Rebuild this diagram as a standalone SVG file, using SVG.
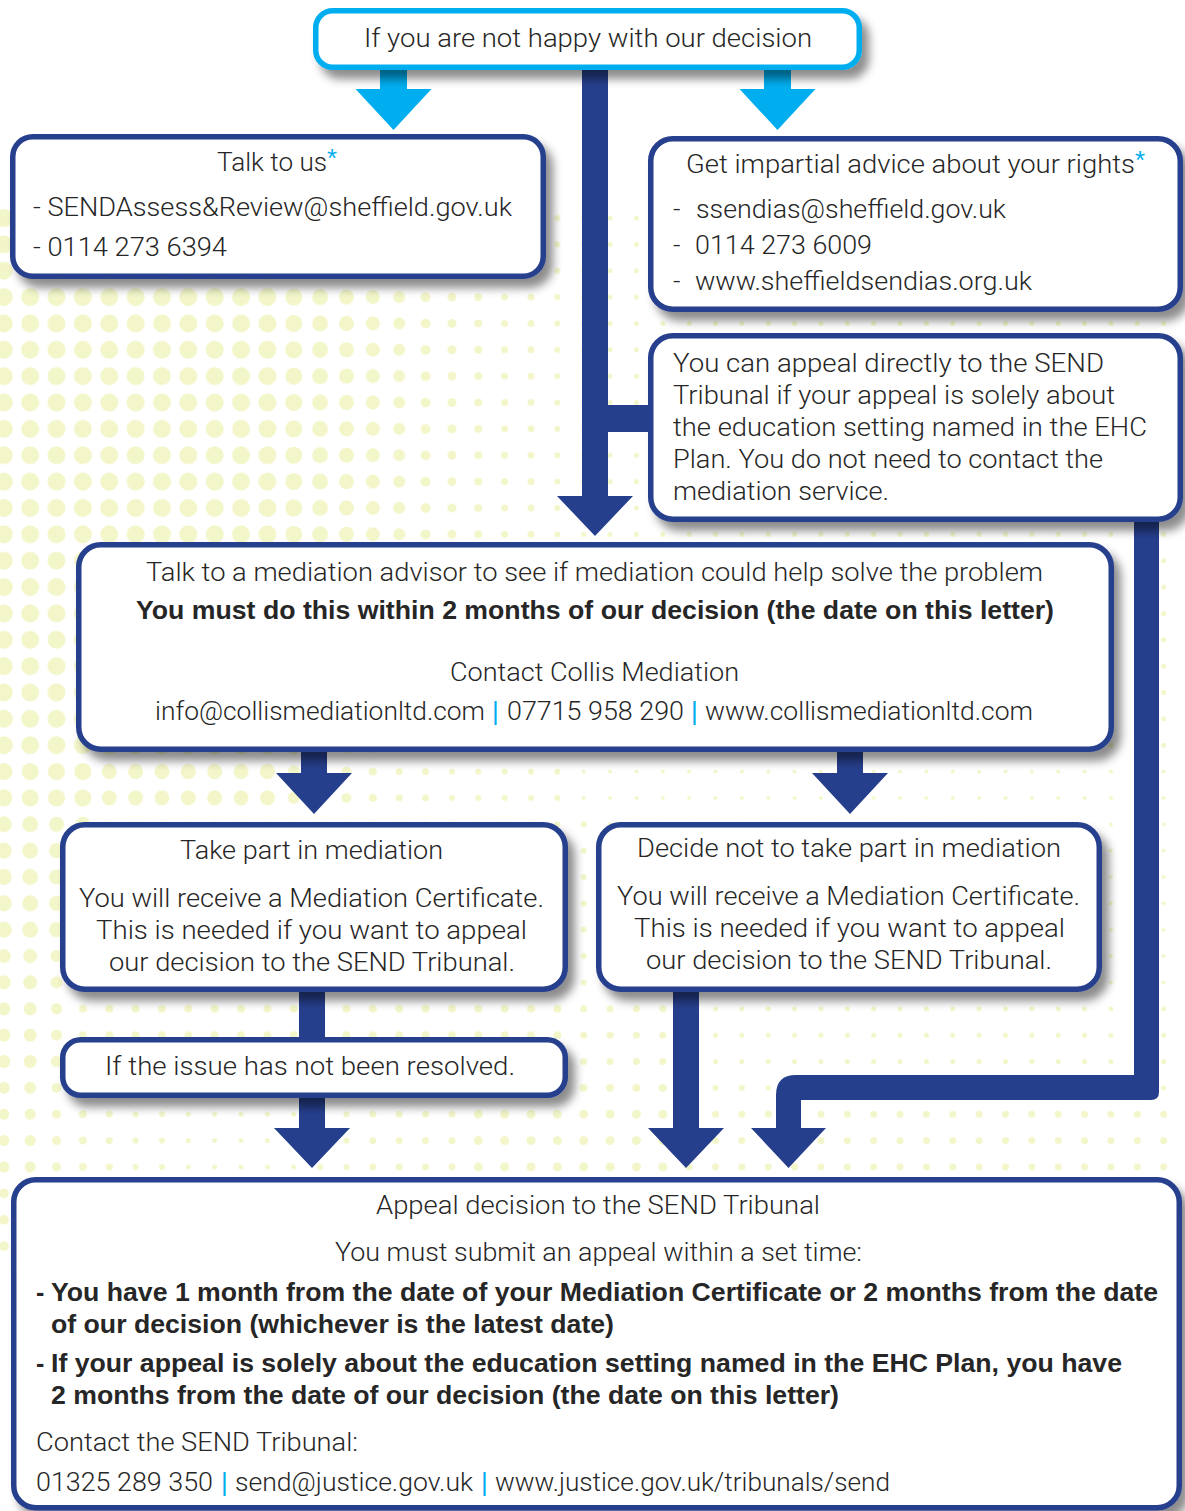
<svg xmlns="http://www.w3.org/2000/svg" width="1185" height="1511" viewBox="0 0 1185 1511">
<style>
.t{font-family:Roboto,"Liberation Sans",sans-serif;font-weight:300;font-size:26px;fill:#262626}
.b{font-family:"Liberation Sans",Arial,sans-serif;font-weight:bold;font-size:25px;fill:#262626}
.cy{font-family:"Liberation Sans",Arial,sans-serif;font-size:26px;fill:#00aeef}
.box{fill:#fff;stroke:#263f8d;stroke-width:5.5}
.cbox{fill:#fff;stroke:#00aeef;stroke-width:5.5}
.arr{fill:#263f8d}
.carr{fill:#00aeef}
.dot{fill:#f3f6c9}
</style>
<defs>
<pattern id="p9" width="26.36" height="26.36" x="-9.38" y="204.82" patternUnits="userSpaceOnUse"><circle class="dot" cx="13.18" cy="13.18" r="9"/></pattern>
<pattern id="p85" width="26.36" height="26.36" x="-9.38" y="204.82" patternUnits="userSpaceOnUse"><circle class="dot" cx="13.18" cy="13.18" r="8.5"/></pattern>
<pattern id="p8" width="26.36" height="26.36" x="-9.38" y="204.82" patternUnits="userSpaceOnUse"><circle class="dot" cx="13.18" cy="13.18" r="8"/></pattern>
<pattern id="p75" width="26.36" height="26.36" x="-9.38" y="204.82" patternUnits="userSpaceOnUse"><circle class="dot" cx="13.18" cy="13.18" r="7.5"/></pattern>
<pattern id="p7" width="26.36" height="26.36" x="-9.38" y="204.82" patternUnits="userSpaceOnUse"><circle class="dot" cx="13.18" cy="13.18" r="7"/></pattern>
<pattern id="p65" width="26.36" height="26.36" x="-9.38" y="204.82" patternUnits="userSpaceOnUse"><circle class="dot" cx="13.18" cy="13.18" r="6.5"/></pattern>
<pattern id="p6" width="26.36" height="26.36" x="-9.38" y="204.82" patternUnits="userSpaceOnUse"><circle class="dot" cx="13.18" cy="13.18" r="6"/></pattern>
<pattern id="p55" width="26.36" height="26.36" x="-9.38" y="204.82" patternUnits="userSpaceOnUse"><circle class="dot" cx="13.18" cy="13.18" r="5.5"/></pattern>
<pattern id="p5" width="26.36" height="26.36" x="-9.38" y="204.82" patternUnits="userSpaceOnUse"><circle class="dot" cx="13.18" cy="13.18" r="5"/></pattern>
<pattern id="p45" width="26.36" height="26.36" x="-9.38" y="204.82" patternUnits="userSpaceOnUse"><circle class="dot" cx="13.18" cy="13.18" r="4.5"/></pattern>
<pattern id="p4" width="26.36" height="26.36" x="-9.38" y="204.82" patternUnits="userSpaceOnUse"><circle class="dot" cx="13.18" cy="13.18" r="4"/></pattern>
<pattern id="p35" width="26.36" height="26.36" x="-9.38" y="204.82" patternUnits="userSpaceOnUse"><circle class="dot" cx="13.18" cy="13.18" r="3.5"/></pattern>
<pattern id="p3" width="26.36" height="26.36" x="-9.38" y="204.82" patternUnits="userSpaceOnUse"><circle class="dot" cx="13.18" cy="13.18" r="3"/></pattern>
<pattern id="p25" width="26.36" height="26.36" x="-9.38" y="204.82" patternUnits="userSpaceOnUse"><circle class="dot" cx="13.18" cy="13.18" r="2.5"/></pattern>
<pattern id="p2" width="26.36" height="26.36" x="-9.38" y="204.82" patternUnits="userSpaceOnUse"><circle class="dot" cx="13.18" cy="13.18" r="2"/></pattern>
<filter id="sh" x="-5%" y="-10%" width="115%" height="150%"><feDropShadow dx="7" dy="9" stdDeviation="5" flood-color="#000" flood-opacity="0.45"/></filter>
</defs>
<rect width="1185" height="1511" fill="#fff"/>
<g id="background-dots">
<rect x="-9.38" y="204.82" width="289.96" height="553.56" fill="url(#p9)"/>
<rect x="280.58" y="204.82" width="26.36" height="553.56" fill="url(#p85)"/>
<rect x="306.94" y="204.82" width="26.36" height="553.56" fill="url(#p8)"/>
<rect x="333.30" y="204.82" width="26.36" height="553.56" fill="url(#p75)"/>
<rect x="359.66" y="204.82" width="26.36" height="553.56" fill="url(#p7)"/>
<rect x="386.02" y="204.82" width="26.36" height="553.56" fill="url(#p6)"/>
<rect x="412.38" y="204.82" width="26.36" height="553.56" fill="url(#p5)"/>
<rect x="438.74" y="204.82" width="26.36" height="553.56" fill="url(#p45)"/>
<rect x="465.10" y="204.82" width="26.36" height="553.56" fill="url(#p4)"/>
<rect x="491.46" y="204.82" width="26.36" height="553.56" fill="url(#p35)"/>
<rect x="517.82" y="204.82" width="26.36" height="553.56" fill="url(#p35)"/>
<rect x="544.18" y="204.82" width="26.36" height="553.56" fill="url(#p3)"/>
<rect x="570.54" y="204.82" width="632.64" height="553.56" fill="url(#p25)"/>

<rect x="-9.38" y="758.38" width="105.44" height="52.72" fill="url(#p85)"/>
<rect x="96.06" y="758.38" width="184.52" height="52.72" fill="url(#p75)"/>
<rect x="280.58" y="758.38" width="52.72" height="52.72" fill="url(#p6)"/>
<rect x="333.30" y="758.38" width="26.36" height="52.72" fill="url(#p5)"/>
<rect x="359.66" y="758.38" width="26.36" height="52.72" fill="url(#p4)"/>
<rect x="386.02" y="758.38" width="52.72" height="52.72" fill="url(#p35)"/>
<rect x="438.74" y="758.38" width="131.8" height="52.72" fill="url(#p3)"/>
<rect x="570.54" y="758.38" width="632.64" height="52.72" fill="url(#p2)"/>

<rect x="-9.38" y="811.10" width="52.72" height="131.8" fill="url(#p8)"/>
<rect x="43.34" y="811.10" width="52.72" height="131.8" fill="url(#p75)"/>
<rect x="96.06" y="811.10" width="500.84" height="131.8" fill="url(#p3)"/>
<rect x="596.90" y="811.10" width="606.28" height="131.8" fill="url(#p2)"/>

<rect x="-9.38" y="942.90" width="52.72" height="52.72" fill="url(#p7)"/>
<rect x="43.34" y="942.90" width="26.36" height="52.72" fill="url(#p6)"/>
<rect x="69.70" y="942.90" width="26.36" height="52.72" fill="url(#p5)"/>
<rect x="96.06" y="942.90" width="500.84" height="52.72" fill="url(#p3)"/>
<rect x="596.90" y="942.90" width="606.28" height="52.72" fill="url(#p2)"/>

<rect x="-9.38" y="995.62" width="52.72" height="79.08" fill="url(#p65)"/>
<rect x="43.34" y="995.62" width="26.36" height="79.08" fill="url(#p55)"/>
<rect x="69.70" y="995.62" width="500.84" height="79.08" fill="url(#p4)"/>
<rect x="570.54" y="995.62" width="105.44" height="79.08" fill="url(#p35)"/>
<rect x="675.98" y="995.62" width="527.2" height="79.08" fill="url(#p25)"/>

<rect x="-9.38" y="1074.70" width="52.72" height="26.36" fill="url(#p6)"/>
<rect x="43.34" y="1074.70" width="26.36" height="26.36" fill="url(#p5)"/>
<rect x="69.70" y="1074.70" width="26.36" height="26.36" fill="url(#p4)"/>
<rect x="96.06" y="1074.70" width="474.48" height="26.36" fill="url(#p3)"/>
<rect x="570.54" y="1074.70" width="105.44" height="26.36" fill="url(#p4)"/>
<rect x="675.98" y="1074.70" width="79.08" height="26.36" fill="url(#p3)"/>
<rect x="755.06" y="1074.70" width="448.12" height="26.36" fill="url(#p25)"/>

<rect x="-9.38" y="1101.06" width="52.72" height="79.08" fill="url(#p55)"/>
<rect x="43.34" y="1101.06" width="26.36" height="79.08" fill="url(#p45)"/>
<rect x="69.70" y="1101.06" width="26.36" height="79.08" fill="url(#p4)"/>
<rect x="96.06" y="1101.06" width="26.36" height="79.08" fill="url(#p35)"/>
<rect x="122.42" y="1101.06" width="52.72" height="79.08" fill="url(#p3)"/>
<rect x="175.14" y="1101.06" width="131.8" height="79.08" fill="url(#p25)"/>
<rect x="306.94" y="1101.06" width="52.72" height="79.08" fill="url(#p3)"/>
<rect x="359.66" y="1101.06" width="105.44" height="79.08" fill="url(#p35)"/>
<rect x="465.10" y="1101.06" width="210.88" height="79.08" fill="url(#p45)"/>
<rect x="675.98" y="1101.06" width="527.2" height="79.08" fill="url(#p35)"/>
<rect x="-9.38" y="1180.14" width="26.36" height="79.08" fill="url(#p5)"/>
</g>
<g id="connectors">
<polygon class="carr" points="380,64 407,64 407,89 431.5,89 393.5,130 355.5,89 380,89"/>
<polygon class="carr" points="764,64 791,64 791,89 815.5,89 777.5,130 739.5,89 764,89"/>
<polygon class="arr" points="582,64 608,64 608,405 652,405 652,432 608,432 608,496 633,496 595,536 557,496 582,496"/>
<polygon class="arr" points="301,745 327,745 327,773 352,773 314,814 276,773 301,773"/>
<polygon class="arr" points="837,745 863,745 863,773 888,773 850,814 812,773 837,773"/>
<rect class="arr" x="299" y="985" width="26" height="58"/>
<polygon class="arr" points="299,1094 325,1094 325,1128 350,1128 312,1168 274,1128 299,1128"/>
<polygon class="arr" points="673,985 699,985 699,1128 724,1128 686,1168 648,1128 673,1128"/>
<path class="arr" d="M1134 516 H1159 V1092 Q1159 1100 1151 1100 H801 V1128 H826 L788.5 1168 L751 1128 H776 V1095 Q776 1075 796 1075 H1134 Z"/>
</g>
<g id="node-start">
<rect class="cbox" x="315.75" y="10.75" width="543.5" height="56.5" rx="17" filter="url(#sh)"/>
<text class="t" x="364" y="47" textLength="448" lengthAdjust="spacingAndGlyphs">If you are not happy with our decision</text>
</g>
<g id="node-talk">
<rect class="box" x="12.75" y="136.75" width="530.5" height="139.5" rx="20" filter="url(#sh)"/>
<text class="t" x="217" y="171" textLength="110" lengthAdjust="spacingAndGlyphs">Talk to us</text>
<text class="cy" x="327" y="167" font-size="22">*</text>
<text class="t" x="33" y="216" textLength="479" lengthAdjust="spacingAndGlyphs">- SENDAssess&amp;Review@sheffield.gov.uk</text>
<text class="t" x="33" y="256" textLength="194" lengthAdjust="spacingAndGlyphs">- 0114 273 6394</text>
</g>
<g id="node-advice">
<rect class="box" x="650.75" y="138.75" width="529.5" height="170.5" rx="22" filter="url(#sh)"/>
<text class="t" x="686" y="173" textLength="449" lengthAdjust="spacingAndGlyphs">Get impartial advice about your rights</text>
<text class="cy" x="1135" y="169" font-size="22">*</text>
<text class="t" x="673" y="218">-</text>
<text class="t" x="696" y="218" textLength="310" lengthAdjust="spacingAndGlyphs">ssendias@sheffield.gov.uk</text>
<text class="t" x="673" y="254">-</text>
<text class="t" x="695" y="254" textLength="177" lengthAdjust="spacingAndGlyphs">0114 273 6009</text>
<text class="t" x="673" y="290">-</text>
<text class="t" x="695" y="290" textLength="337" lengthAdjust="spacingAndGlyphs">www.sheffieldsendias.org.uk</text>
</g>
<g id="node-direct-appeal">
<rect class="box" x="650.75" y="335.75" width="529.5" height="183.5" rx="22" filter="url(#sh)"/>
<text class="t" x="673" y="372" textLength="431" lengthAdjust="spacingAndGlyphs">You can appeal directly to the SEND</text>
<text class="t" x="673" y="404" textLength="442" lengthAdjust="spacingAndGlyphs">Tribunal if your appeal is solely about</text>
<text class="t" x="673" y="436" textLength="474" lengthAdjust="spacingAndGlyphs">the education setting named in the EHC</text>
<text class="t" x="673" y="468" textLength="430" lengthAdjust="spacingAndGlyphs">Plan. You do not need to contact the</text>
<text class="t" x="673" y="500" textLength="216" lengthAdjust="spacingAndGlyphs">mediation service.</text>
</g>
<g id="node-mediation">
<rect class="box" x="78.75" y="544.75" width="1032.5" height="204.5" rx="22" filter="url(#sh)"/>
<text class="t" x="146" y="581" textLength="897" lengthAdjust="spacingAndGlyphs">Talk to a mediation advisor to see if mediation could help solve the problem</text>
<text class="b" x="136" y="619" textLength="918" lengthAdjust="spacingAndGlyphs">You must do this within 2 months of our decision (the date on this letter)</text>
<text class="t" x="450" y="681" textLength="289" lengthAdjust="spacingAndGlyphs">Contact Collis Mediation</text>
<text class="t" x="155" y="720" textLength="330" lengthAdjust="spacingAndGlyphs">info@collismediationltd.com</text>
<text class="cy" x="492" y="720">|</text>
<text class="t" x="507" y="720" textLength="177" lengthAdjust="spacingAndGlyphs">07715 958 290</text>
<text class="cy" x="691" y="720">|</text>
<text class="t" x="705" y="720" textLength="328" lengthAdjust="spacingAndGlyphs">www.collismediationltd.com</text>
</g>
<g id="node-take-part">
<rect class="box" x="62.75" y="824.75" width="502.5" height="164.5" rx="22" filter="url(#sh)"/>
<text class="t" x="180" y="859" textLength="263" lengthAdjust="spacingAndGlyphs">Take part in mediation</text>
<text class="t" x="79" y="907" textLength="465" lengthAdjust="spacingAndGlyphs">You will receive a Mediation Certificate.</text>
<text class="t" x="96" y="939" textLength="431" lengthAdjust="spacingAndGlyphs">This is needed if you want to appeal</text>
<text class="t" x="109" y="971" textLength="406" lengthAdjust="spacingAndGlyphs">our decision to the SEND Tribunal.</text>
</g>
<g id="node-not-resolved">
<rect class="box" x="62.75" y="1039.75" width="502.5" height="55.5" rx="18" filter="url(#sh)"/>
<text class="t" x="105" y="1075" textLength="410" lengthAdjust="spacingAndGlyphs">If the issue has not been resolved.</text>
</g>
<g id="node-decline">
<rect class="box" x="598.75" y="824.75" width="500.5" height="164.5" rx="22" filter="url(#sh)"/>
<text class="t" x="637" y="857" textLength="424" lengthAdjust="spacingAndGlyphs">Decide not to take part in mediation</text>
<text class="t" x="617" y="905" textLength="463" lengthAdjust="spacingAndGlyphs">You will receive a Mediation Certificate.</text>
<text class="t" x="634" y="937" textLength="431" lengthAdjust="spacingAndGlyphs">This is needed if you want to appeal</text>
<text class="t" x="646" y="969" textLength="406" lengthAdjust="spacingAndGlyphs">our decision to the SEND Tribunal.</text>
</g>
<g id="node-tribunal">
<rect class="box" x="13.75" y="1179.75" width="1165.5" height="328" rx="22" filter="url(#sh)"/>
<text class="t" x="376" y="1214" textLength="444" lengthAdjust="spacingAndGlyphs">Appeal decision to the SEND Tribunal</text>
<text class="t" x="335" y="1261" textLength="527" lengthAdjust="spacingAndGlyphs">You must submit an appeal within a set time:</text>
<text class="b" x="36" y="1301">-</text>
<text class="b" x="51" y="1301" textLength="1107" lengthAdjust="spacingAndGlyphs">You have 1 month from the date of your Mediation Certificate or 2 months from the date</text>
<text class="b" x="51" y="1333" textLength="563" lengthAdjust="spacingAndGlyphs">of our decision (whichever is the latest date)</text>
<text class="b" x="36" y="1372">-</text>
<text class="b" x="51" y="1372" textLength="1071" lengthAdjust="spacingAndGlyphs">If your appeal is solely about the education setting named in the EHC Plan, you have</text>
<text class="b" x="51" y="1404" textLength="788" lengthAdjust="spacingAndGlyphs">2 months from the date of our decision (the date on this letter)</text>
<text class="t" x="36" y="1451" textLength="322" lengthAdjust="spacingAndGlyphs">Contact the SEND Tribunal:</text>
<text class="t" x="36" y="1491" textLength="177" lengthAdjust="spacingAndGlyphs">01325 289 350</text>
<text class="cy" x="221" y="1491">|</text>
<text class="t" x="235" y="1491" textLength="238" lengthAdjust="spacingAndGlyphs">send@justice.gov.uk</text>
<text class="cy" x="481" y="1491">|</text>
<text class="t" x="495" y="1491" textLength="395" lengthAdjust="spacingAndGlyphs">www.justice.gov.uk/tribunals/send</text>
</g>
</svg>
